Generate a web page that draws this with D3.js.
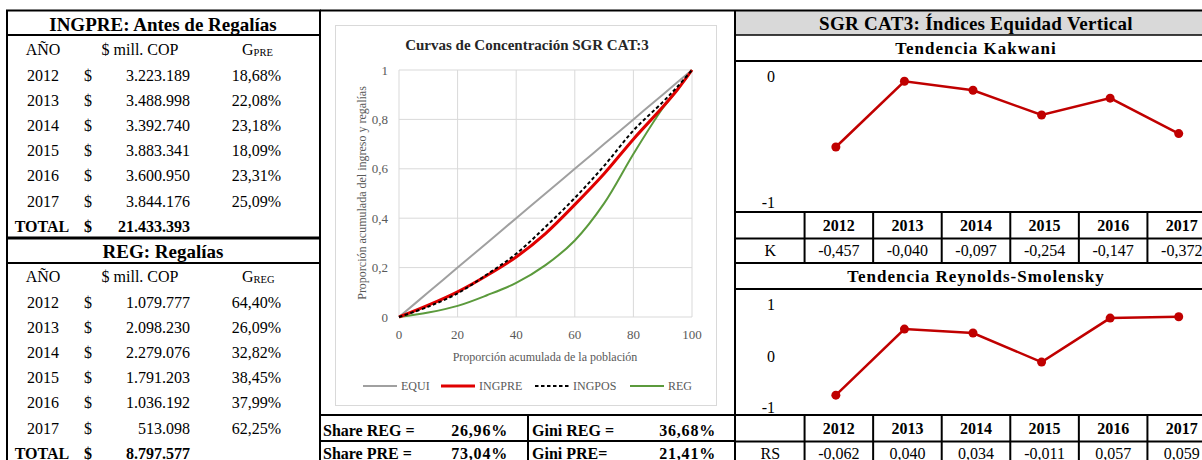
<!DOCTYPE html>
<html>
<head>
<meta charset="utf-8">
<script src="https://cdn.jsdelivr.net/npm/d3@7"></script>
<style>
    body { margin: 0; background: #ffffff; }
    svg { display: block; font-family: "Liberation Serif", "Times New Roman", serif; }
    .cell { font-size: 16px; fill: #000000; }
    .bold { font-weight: bold; }
    .title { font-size: 19px; font-weight: bold; }
    .subtitle { font-size: 17px; font-weight: bold; letter-spacing: 1px; }
    .tick-label { font-size: 13px; fill: #595959; }
    .axis-title { font-size: 12px; fill: #595959; }
    .grid { stroke: #d9d9d9; stroke-width: 1; }
    .rule { stroke: #000000; }
</style>
</head>
<body>
<svg id="report" width="1202" height="460"></svg>
<script>
// Yearly tables
const YEARS = ["2012", "2013", "2014", "2015", "2016", "2017"];
const INGPRE_COP = [3223189, 3488998, 3392740, 3883341, 3600950, 3844176];
const INGPRE_GINI = [18.68, 22.08, 23.18, 18.09, 23.31, 25.09];
const INGPRE_TOTAL = 21433393;
const REG_COP = [1079777, 2098230, 2279076, 1791203, 1036192, 513098];
const REG_GINI = [64.40, 26.09, 32.82, 38.45, 37.99, 62.25];
const REG_TOTAL = 8797577;

// Summary shares / ginis
const SHARE_REG = 26.96;
const SHARE_PRE = 73.04;
const GINI_REG = 36.68;
const GINI_PRE = 21.41;

// Concentration curves
const POPULATION = [0, 10, 20, 30, 40, 50, 60, 70, 80, 90, 95, 100];
const CURVE_EQUI = [0, 0.10, 0.20, 0.30, 0.40, 0.50, 0.60, 0.70, 0.80, 0.90, 0.95, 1];
const CURVE_INGPRE = [0, 0.048, 0.102, 0.168, 0.243, 0.338, 0.455, 0.580, 0.720, 0.850, 0.920, 1];
const CURVE_INGPOS = [0, 0.042, 0.096, 0.172, 0.256, 0.365, 0.482, 0.612, 0.755, 0.870, 0.932, 1];
const CURVE_REG = [0, 0.018, 0.045, 0.088, 0.138, 0.210, 0.310, 0.460, 0.660, 0.845, 0.920, 1];
const CURVE_TICKS_X = [0, 20, 40, 60, 80, 100];
const CURVE_TICKS_Y = [0, 0.2, 0.4, 0.6, 0.8, 1];

// Vertical equity indices
const KAKWANI = [-0.457, -0.040, -0.097, -0.254, -0.147, -0.372];
const KAKWANI_TICKS = [0, -0.8];
const KAKWANI_TICK_LABELS = ["0", "-1"];
const RS = [-0.062, 0.040, 0.034, -0.011, 0.057, 0.059];
const RS_TICKS = [0.08, 0, -0.08];
const RS_TICK_LABELS = ["1", "0", "-1"];

const locale = d3.formatLocale({
    decimal: ",", thousands: ".", grouping: [3], currency: ["$", ""], minus: "-"
});
const fmtCop = locale.format(",d");
const fmtPct = (v) => locale.format(".2f")(v) + "%";
const fmtIdx = locale.format(".3f");
const fmtTick = locale.format(".1~f");

const svg = d3.select("#report");

const hline = (x1, x2, y, w) => svg.append("line").classed("rule", true)
    .attr("x1", x1).attr("x2", x2).attr("y1", y).attr("y2", y).attr("stroke-width", w || 2);
const vline = (x, y1, y2, w) => svg.append("line").classed("rule", true)
    .attr("x1", x).attr("x2", x).attr("y1", y1).attr("y2", y2).attr("stroke-width", w || 2);
const text = (x, y, str, cls, anchor) => svg.append("text")
    .attr("class", cls || "cell")
    .attr("x", x).attr("y", y)
    .attr("text-anchor", anchor || "middle")
    .attr("dominant-baseline", "central")
    .text(str);

// ---------- left tables ----------
const drawIncomeTable = (top, title, sub, cop, gini, total) => {
    text(163, top + 14, title, "title");
    text(43, top + 39, "AÑO");
    text(140, top + 39, "$ mill. COP");
    const g = text(242, top + 39, "G", "cell", "start");
    g.append("tspan").attr("font-size", 10.5).attr("dy", 3).text(sub);

    YEARS.forEach((year, i) => {
        const y = top + 65 + 25.2 * i;
        text(43, y, year);
        text(88, y, "$");
        text(190, y, fmtCop(cop[i]), "cell", "end");
        text(281, y, fmtPct(gini[i]), "cell", "end");
    });

    const yTotal = top + 216;
    text(42, yTotal, "TOTAL", "cell bold");
    text(88, yTotal, "$", "cell bold");
    text(190, yTotal, fmtCop(total), "cell bold", "end");
};

drawIncomeTable(10, "INGPRE: Antes de Regalías", "PRE", INGPRE_COP, INGPRE_GINI, INGPRE_TOTAL);
drawIncomeTable(237, "REG: Regalías", "REG", REG_COP, REG_GINI, REG_TOTAL);

hline(6, 321, 10.5);
hline(6, 321, 35);
hline(6, 321, 238, 3);
hline(6, 321, 263);
vline(7, 10, 460);
vline(320, 10, 460);

// ---------- concentration curves ----------
svg.append("rect")
    .attr("x", 335.5).attr("y", 25.5).attr("width", 381).attr("height", 380)
    .attr("fill", "#ffffff").attr("stroke", "#d9d9d9");

const cx = d3.scaleLinear().domain([0, 100]).range([399, 692]);
const cy = d3.scaleLinear().domain([0, 1]).range([317, 70]);

svg.append("g").selectAll("line").data(CURVE_TICKS_X).join("line").classed("grid", true)
    .attr("x1", (d) => cx(d)).attr("x2", (d) => cx(d)).attr("y1", cy(0)).attr("y2", cy(1));
svg.append("g").selectAll("line").data(CURVE_TICKS_Y).join("line").classed("grid", true)
    .attr("x1", cx(0)).attr("x2", cx(100)).attr("y1", (d) => cy(d)).attr("y2", (d) => cy(d));

svg.append("g").selectAll("text").data(CURVE_TICKS_X).join("text").classed("tick-label", true)
    .attr("x", (d) => cx(d)).attr("y", 334)
    .attr("text-anchor", "middle").attr("dominant-baseline", "central")
    .text((d) => d);
svg.append("g").selectAll("text").data(CURVE_TICKS_Y).join("text").classed("tick-label", true)
    .attr("x", 388).attr("y", (d) => cy(d))
    .attr("text-anchor", "end").attr("dominant-baseline", "central")
    .text(fmtTick);

text(527, 45, "Curvas de Concentración SGR CAT:3", "bold").attr("font-size", 15).attr("fill", "#262626");
text(545, 357, "Proporción acumulada de la población", "axis-title");
svg.append("text").classed("axis-title", true)
    .attr("transform", "translate(362 193) rotate(-90)")
    .attr("text-anchor", "middle").attr("dominant-baseline", "central")
    .text("Proporción acumulada del ingreso y regalías");

const series = [
    {name: "EQUI", values: CURVE_EQUI, color: "#a0a0a0", width: 2, dash: null},
    {name: "INGPRE", values: CURVE_INGPRE, color: "#e00000", width: 3, dash: null},
    {name: "INGPOS", values: CURVE_INGPOS, color: "#000000", width: 2, dash: "3.5 2.5"},
    {name: "REG", values: CURVE_REG, color: "#5b9a3c", width: 2, dash: null}
];

const curveLine = d3.line()
    .x((d) => cx(d[0]))
    .y((d) => cy(d[1]))
    .curve(d3.curveCatmullRom.alpha(0.5));

const drawOrder = [series[0], series[3], series[1], series[2]];
svg.append("g").selectAll("path").data(drawOrder).join("path")
    .attr("d", (s) => curveLine(POPULATION.map((p, i) => [p, s.values[i]])))
    .attr("fill", "none")
    .attr("stroke", (s) => s.color)
    .attr("stroke-width", (s) => s.width)
    .attr("stroke-dasharray", (s) => s.dash);

// legend
const legendX = [363, 441, 535, 630];
const legend = svg.append("g").selectAll("g").data(series).join("g")
    .attr("transform", (s, i) => "translate(" + legendX[i] + " 386)");
legend.append("line")
    .attr("x1", 0).attr("x2", 34).attr("y1", 0).attr("y2", 0)
    .attr("stroke", (s) => s.color)
    .attr("stroke-width", (s) => s.width)
    .attr("stroke-dasharray", (s) => s.dash);
legend.append("text").classed("axis-title", true)
    .attr("x", 38).attr("y", 0).attr("dominant-baseline", "central")
    .attr("font-size", 13)
    .text((s) => s.name);

// share table
const shareRows = [
    ["Share REG =", SHARE_REG, "Gini REG =", GINI_REG],
    ["Share PRE =", SHARE_PRE, "Gini PRE=", GINI_PRE]
];
shareRows.forEach((row, i) => {
    const y = 430 + 23 * i;
    text(323, y, row[0], "cell bold", "start");
    text(508, y, fmtPct(row[1]), "cell bold", "end").attr("font-size", 20).attr("letter-spacing", 0.8);
    text(532, y, row[2], "cell bold", "start");
    text(716, y, fmtPct(row[3]), "cell bold", "end").attr("font-size", 20).attr("letter-spacing", 0.8);
});

hline(320, 736, 10.5);
hline(320, 736, 415);
hline(320, 736, 441);
vline(528, 415, 460);
vline(735, 10, 460);

// ---------- vertical equity indices ----------
const cols = d3.scaleBand().domain(["label"].concat(YEARS)).range([736, 1216]);
const colCenter = (key) => cols(key) + cols.bandwidth() / 2;

svg.append("rect").attr("x", 736).attr("y", 11).attr("width", 466).attr("height", 24).attr("fill", "#d9d9d9");
text(976, 23, "SGR CAT3: Índices Equidad Vertical", "title").attr("letter-spacing", 0.3);
hline(736, 1202, 10.5);
hline(736, 1202, 35, 1.5);

const drawTrend = (top, chartBottom, title, values, yDomain, yRange, ticks, tickLabels, rowLabel) => {
    text(976, top + 13, title, "subtitle");
    hline(736, 1202, top + 26);

    const x = d3.scalePoint().domain(YEARS).range([colCenter("2012") - 3, colCenter("2017") - 3]);
    const y = d3.scaleLinear().domain(yDomain).range(yRange);

    svg.append("g").selectAll("text").data(ticks).join("text")
        .classed("cell", true).attr("font-size", 17)
        .attr("x", 775).attr("y", (d) => y(d) + 1)
        .attr("text-anchor", "end").attr("dominant-baseline", "central")
        .text((d, i) => tickLabels[i]);

    const line = d3.line().x((d, i) => x(YEARS[i])).y((d) => y(d));
    svg.append("path")
        .attr("d", line(values))
        .attr("fill", "none").attr("stroke", "#c00000").attr("stroke-width", 2.5);
    svg.append("g").selectAll("circle").data(values).join("circle")
        .attr("cx", (d, i) => x(YEARS[i])).attr("cy", (d) => y(d))
        .attr("r", 4.5).attr("fill", "#c00000");

    // year header row and values row
    hline(736, 1202, chartBottom);
    YEARS.forEach((year, i) => {
        text(colCenter(year), chartBottom + 13, year, "cell bold").attr("font-size", 19);
        text(colCenter(year), chartBottom + 38, fmtIdx(values[i])).attr("font-size", 17);
    });
    text(colCenter("label"), chartBottom + 38, rowLabel).attr("font-size", 17);
    hline(736, 1202, chartBottom + 26.5);
    cols.domain().slice(1).forEach((key) => vline(cols(key), chartBottom, chartBottom + 52));
};

drawTrend(35, 212, "Tendencia Kakwani", KAKWANI, [-0.8, 0], [201, 75],
    KAKWANI_TICKS, KAKWANI_TICK_LABELS, "K");
hline(736, 1202, 263);
drawTrend(263, 415, "Tendencia Reynolds-Smolensky", RS, [-0.08, 0.08], [406.8, 303.2],
    RS_TICKS, RS_TICK_LABELS, "RS");
</script>
</body>
</html>
